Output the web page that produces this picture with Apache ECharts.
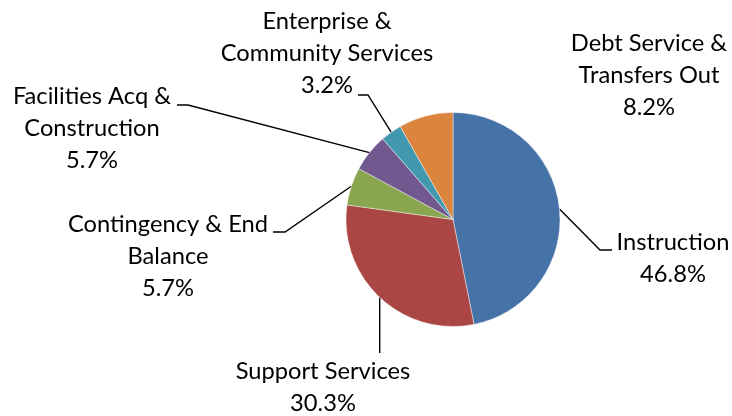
<!DOCTYPE html>
<html>
<head>
<meta charset="utf-8">
<script src="https://cdn.jsdelivr.net/npm/echarts@6/dist/echarts.min.js"></script>
<style>
  html, body { margin: 0; padding: 0; background: #fff; }
  #chart { width: 732px; height: 416px; }
</style>
</head>
<body>
<div id="chart"></div>
<script>
// Budget share by function (percent of total)
const categories = [
  'Instruction',
  'Support Services',
  'Contingency & End\nBalance',
  'Facilities Acq &\nConstruction',
  'Enterprise &\nCommunity Services',
  'Debt Service &\nTransfers Out'
];
const shares = [46.8, 30.3, 5.7, 5.7, 3.2, 8.2];
const colors = ['#4572A7', '#AA4643', '#89A54E', '#71588F', '#4198AF', '#DB843D'];

// Where each label box sits (centre x, top y) and the elbow/end of its leader line
const labelPlacement = [
  { cx: 673, top: 226, line: [[600, 250], [612, 250]] },
  { cx: 323, top: 355, line: 'down', lineEnd: 353 },
  { cx: 168, top: 208, line: [[285, 232], [273, 232]] },
  { cx: 92,  top: 80,  line: [[188, 105], [177, 105]] },
  { cx: 327, top: 5,   line: [[368, 95], [358, 95]] },
  { cx: 649, top: 27,  line: null }
];

const chart = echarts.init(document.getElementById('chart'), null, { renderer: 'canvas' });

chart.setOption({
  animation: false,
  backgroundColor: '#ffffff',
  series: [{
    type: 'pie',
    center: [453, 219.5],
    radius: [0, 107],
    startAngle: 90,
    clockwise: true,
    avoidLabelOverlap: false,
    itemStyle: { borderColor: 'rgba(255,255,255,0.55)', borderWidth: 0.8 },
    label: {
      show: true,
      position: 'outside',
      color: '#000',
      fontFamily: 'Lato, "Open Sans", sans-serif',
      fontSize: 23.7,
      lineHeight: 32,
      align: 'center',
      formatter: p => p.name + '\n' + p.value.toFixed(1) + '%'
    },
    labelLine: {
      show: true,
      length: 20,
      length2: 10,
      lineStyle: { color: '#000', width: 1.4 }
    },
    labelLayout: function (params) {
      const cfg = labelPlacement[params.dataIndex];
      const out = { x: cfg.cx, y: cfg.top, align: 'center', verticalAlign: 'top' };
      const start = params.labelLinePoints ? params.labelLinePoints[0] : null;
      if (start && cfg.line === 'down') {
        out.labelLinePoints = [start, [start[0], cfg.lineEnd], [start[0], cfg.lineEnd]];
      } else if (start && cfg.line) {
        out.labelLinePoints = [start, cfg.line[0], cfg.line[1]];
      }
      return out;
    },
    data: categories.map((name, i) => ({
      name: name,
      value: shares[i],
      itemStyle: { color: colors[i] },
      labelLine: { show: labelPlacement[i].line !== null }
    }))
  }]
});
</script>
</body>
</html>
